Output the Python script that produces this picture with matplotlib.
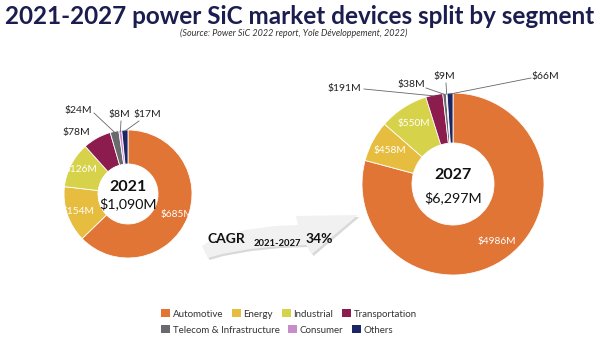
import numpy as np
import matplotlib
matplotlib.use("Agg")
import matplotlib.pyplot as plt
from matplotlib.patches import Polygon, Patch

plt.rcParams['font.family'] = ['Lato', 'DejaVu Sans']

# ── data ──────────────────────────────────────────────────────────────
segments = ["Automotive", "Energy", "Industrial", "Transportation",
            "Telecom & Infrastructure", "Consumer", "Others"]
colors = ["#E07535", "#E6BD3F", "#D6D24A", "#8C1C4E",
          "#6A6A6E", "#C88CCB", "#1C2565"]

values_2021 = [685, 154, 126, 78, 24, 8, 17]
values_2027 = [4986, 458, 550, 191, 38, 9, 66]
total_2021 = "$1,090M"
total_2027 = "$6,297M"
cagr = "34%"

W, H = 600, 341
fig = plt.figure(figsize=(W / 100, H / 100), dpi=100)
ax = fig.add_axes([0, 0, 1, 1])


def Y(py):
    return H - py


def mid_angles(vals):
    tot = float(sum(vals))
    cum = np.cumsum([0] + list(vals[:-1]))
    return [np.deg2rad(90 - 360 * (c + v / 2) / tot) for c, v in zip(cum, vals)]


def donut(vals, cx, cy, r, hole, year, total, inner_idx, outer_labels):
    ax.pie(vals, colors=colors, startangle=90, counterclock=False, radius=r,
           center=(cx, Y(cy)), frame=True,
           wedgeprops=dict(width=r - hole, edgecolor="white", linewidth=0.6))
    ang = mid_angles(vals)
    rl = (r + hole) / 2 + 6
    for i in inner_idx:
        a = ang[i]
        ax.text(cx + rl * np.cos(a), Y(cy) + rl * np.sin(a), f"${vals[i]}M",
                color="white", fontsize=7.3, ha="center", va="center")
    for i, (tx, ty, lx, ly) in outer_labels.items():
        ax.text(tx, Y(ty), f"${vals[i]}M", color="#222222", fontsize=7.5,
                ha="center", va="center")
        if lx is not None:
            a = ang[i]
            ex, ey = cx + (r - 1) * np.cos(a), Y(cy) + (r - 1) * np.sin(a)
            ax.plot([lx, ex], [Y(ly), ey], color="#666666", lw=0.6)
    ax.text(cx, Y(cy) + hole * 0.22, year, fontsize=11.5, fontweight="bold",
            color="#111111", ha="center", va="center")
    ax.text(cx, Y(cy) - hole * 0.33, total, fontsize=10.3, color="#111111",
            ha="center", va="center")


# 2021 donut
donut(values_2021, 128, 194, 64, 30, "2021", total_2021, [0, 1, 2],
      {3: (76, 133, None, None),
       4: (78, 111, 94, 113),
       5: (119, 115, 121, 121),
       6: (147, 115, 139, 121)})

# 2027 donut
donut(values_2027, 453, 184, 91, 41, "2027", total_2027, [0, 1, 2],
      {3: (344, 89, 364, 89),
       4: (411, 85, 426, 88),
       5: (444, 77, 446, 83),
       6: (545, 77, 531, 78)})

# CAGR arrow
arrow_px = [(202, 246), (215, 238), (245, 230), (275, 226), (298, 225),
            (296, 216), (358, 215), (312, 254), (306, 245), (280, 246),
            (250, 249), (222, 254), (208, 258)]
ax.add_patch(Polygon([(x + 1.5, Y(y) - 2) for x, y in arrow_px],
                     closed=True, facecolor="#d9d9d9", edgecolor="none"))
ax.add_patch(Polygon([(x, Y(y)) for x, y in arrow_px], closed=True,
                     facecolor="#f1f1f1", edgecolor="none"))
ax.text(208, Y(239), "CAGR", fontsize=10, fontweight="bold", color="#111111",
        ha="left", va="center")
ax.text(254, Y(244), "2021-2027", fontsize=6.8, fontweight="bold",
        color="#111111", ha="left", va="center")
ax.text(306, Y(239), cagr, fontsize=10, fontweight="bold", color="#111111",
        ha="left", va="center")

# titles
ax.text(300, Y(16), "2021-2027 power SiC market devices split by segment",
        fontsize=17.5, fontweight="bold", color="#1B1D4F", ha="center",
        va="center")
ax.text(294, Y(33), "(Source: Power SiC 2022 report, Yole Développement, 2022)",
        fontsize=6.5, style="italic", color="#333333", ha="center",
        va="center")

# legend
handles = [Patch(facecolor=c, edgecolor="none") for c in colors]
leg_kw = dict(frameon=False, fontsize=7, handlelength=0.9, handleheight=0.8,
              handletextpad=0.3, columnspacing=0.9, borderpad=0,
              borderaxespad=0, labelcolor="#333333")
leg1 = ax.legend(handles[:4], segments[:4], ncol=4, loc="center left",
                 bbox_to_anchor=(161 / W, 1 - 314 / H), **leg_kw)
ax.add_artist(leg1)
ax.legend(handles[4:], segments[4:], ncol=3, loc="center left",
          bbox_to_anchor=(161 / W, 1 - 330 / H), **leg_kw)

ax.set_xlim(0, W)
ax.set_ylim(0, H)
ax.set_aspect("equal")
ax.axis("off")

fig.savefig("out.png", dpi=100, facecolor="white")
